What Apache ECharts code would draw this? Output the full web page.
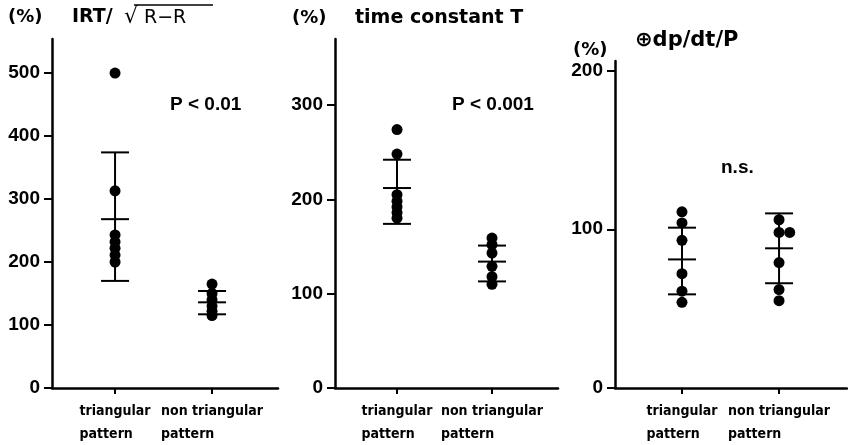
<!DOCTYPE html>
<html>
<head>
<meta charset="utf-8">
<script src="https://cdn.jsdelivr.net/npm/echarts@6/dist/echarts.min.js"></script>
<style>
  html, body { margin: 0; padding: 0; background: #fff; }
  #chart { width: 848px; height: 445px; }
</style>
</head>
<body>
<div id="chart"></div>
<script>
// category labels (x = 1, 2 on every panel)
const categories = ["triangular\npattern", "non triangular\npattern"];

// IRT / sqrt(R-R), %
const irtTriangular = [500, 313, 243, 232, 222, 211, 200];
const irtNonTriangular = [165, 150, 140, 130, 122, 115];
const irtBars = [[170, 268, 374], [117, 136, 154]]; // low, mean, high

// time constant T, %
const tauTriangular = [274, 248, 205, 198, 192, 186, 180];
const tauNonTriangular = [159, 152, 143, 129, 118, 110];
const tauBars = [[174, 212, 242], [113, 134, 151]];

// +dp/dt/P, %
const dpTriangular = [111, 104, 93, 72, 61, 54];
const dpNonTriangular = [106, 98, 98, 79, 62, 55];
const dpNonJitter = [0, 0, 0.11, 0, 0, 0];
const dpBars = [[59, 81, 101], [66, 88, 110]];

// y tick labels
const irtTicks = [0, 100, 200, 300, 400, 500];
const tauTicks = [0, 100, 200, 300];
const dpTicks = [0, 100, 200];

const tickFont = "Liberation Sans";
const textFont = "DejaVu Sans";
const catFont = "DejaVu Sans Condensed";

function toPoints(values, x, jitter) {
    return values.map((v, i) => [x + (jitter ? jitter[i] : 0), v]);
}

function toBars(bars) {
    return bars.map((b, i) => [i + 1, b[0], b[1], b[2]]);
}

function renderErrorBar(params, api) {
    const x = api.value(0);
    const lo = api.coord([x, api.value(1)]);
    const mid = api.coord([x, api.value(2)]);
    const hi = api.coord([x, api.value(3)]);
    const half = 14;
    const style = { stroke: "#000", lineWidth: 2 };
    const cap = p => ({ type: "line", shape: { x1: p[0] - half, y1: p[1], x2: p[0] + half, y2: p[1] }, style });
    return {
        type: "group",
        children: [
            { type: "line", shape: { x1: hi[0], y1: hi[1], x2: lo[0], y2: lo[1] }, style },
            cap(lo), cap(mid), cap(hi)
        ]
    };
}

function xAxisFor(idx, min, max) {
    return {
        type: "value",
        gridIndex: idx,
        min: min,
        max: max,
        splitLine: { show: false },
        axisLine: { show: true, onZero: false, lineStyle: { color: "#000", width: 2.5 } },
        axisTick: { show: true, customValues: [1, 2], length: 6, lineStyle: { color: "#000", width: 2 } },
        axisLabel: {
            customValues: [1, 2],
            margin: 12,
            formatter: v => {
                const lines = categories[Math.round(v) - 1].split("\n");
                return lines.map(l => "{a|" + l + "}").join("\n");
            },
            rich: { a: { align: "left", fontFamily: catFont, fontWeight: "bold", fontSize: 14, lineHeight: 23, color: "#000" } }
        }
    };
}

function yAxisFor(idx, max, ticks) {
    return {
        type: "value",
        gridIndex: idx,
        min: 0,
        max: max,
        splitLine: { show: false },
        axisLine: { show: true, lineStyle: { color: "#000", width: 2.5 } },
        axisTick: { show: true, customValues: ticks, length: 8, lineStyle: { color: "#000", width: 2 } },
        axisLabel: {
            customValues: ticks,
            margin: 12,
            fontFamily: tickFont,
            fontWeight: "bold",
            fontSize: 19,
            color: "#000"
        }
    };
}

function scatter(idx, data) {
    return {
        type: "scatter",
        xAxisIndex: idx,
        yAxisIndex: idx,
        symbol: "circle",
        symbolSize: 11,
        itemStyle: { color: "#000", opacity: 1 },
        data: data,
        z: 3
    };
}

function bars(idx, data) {
    return {
        type: "custom",
        xAxisIndex: idx,
        yAxisIndex: idx,
        renderItem: renderErrorBar,
        encode: { x: 0, y: [1, 2, 3] },
        data: data,
        z: 2
    };
}

function label(text, x, y, opts) {
    return {
        type: "text",
        x: x,
        y: y,
        style: Object.assign({
            text: text,
            fill: "#000",
            fontFamily: textFont,
            fontWeight: "bold",
            fontSize: 18,
            verticalAlign: "middle"
        }, opts || {})
    };
}

const chart = echarts.init(document.getElementById("chart"), null, { renderer: "canvas" });

chart.setOption({
    animation: false,
    backgroundColor: "#fff",
    grid: [
        { left: 52, top: 39, width: 226, height: 349 },
        { left: 335, top: 39, width: 223, height: 349 },
        { left: 615, top: 61, width: 232, height: 327 }
    ],
    xAxis: [
        xAxisFor(0, 0.35, 2.68),
        xAxisFor(1, 0.347, 2.695),
        xAxisFor(2, 0.31, 2.70)
    ],
    yAxis: [
        yAxisFor(0, 554, irtTicks),
        yAxisFor(1, 370, tauTicks),
        yAxisFor(2, 206, dpTicks)
    ],
    series: [
        scatter(0, toPoints(irtTriangular, 1).concat(toPoints(irtNonTriangular, 2))),
        bars(0, toBars(irtBars)),
        scatter(1, toPoints(tauTriangular, 1).concat(toPoints(tauNonTriangular, 2))),
        bars(1, toBars(tauBars)),
        scatter(2, toPoints(dpTriangular, 1).concat(toPoints(dpNonTriangular, 2, dpNonJitter))),
        bars(2, toBars(dpBars))
    ],
    graphic: [
        // panel titles
        label("(%)", 8, 17),
        label("IRT/", 72, 17, { fontSize: 19 }),
        label("\u221A", 124, 17, { fontSize: 22, fontWeight: "normal" }),
        label("R\u2212R", 144, 18, { fontSize: 19, fontWeight: "normal" }),
        { type: "line", shape: { x1: 134, y1: 5, x2: 213, y2: 5 }, style: { stroke: "#000", lineWidth: 1.5 } },
        label("(%)", 292, 18),
        label("time constant T", 355, 18, { fontSize: 19 }),
        label("(%)", 573, 50),
        label("\u2295dp/dt/P", 635, 41, { fontSize: 21 }),
        // significance
        label("P < 0.01", 170, 105, { fontFamily: tickFont, fontSize: 19 }),
        label("P < 0.001", 452, 105, { fontFamily: tickFont, fontSize: 19 }),
        label("n.s.", 721, 168, { fontFamily: tickFont, fontSize: 19 })
    ]
});
</script>
</body>
</html>
